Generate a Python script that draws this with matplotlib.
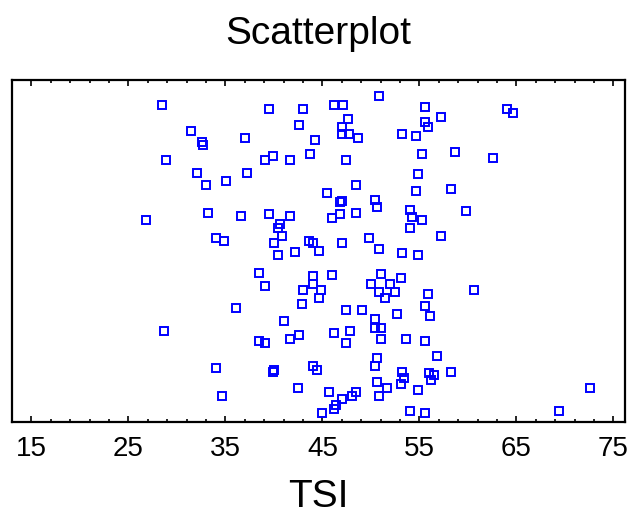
import matplotlib.pyplot as plt

# TSI values with their vertical jitter (0..1)
tsi = [
    28.44, 39.45, 43.04, 42.61, 31.46, 37.05, 32.62, 32.70, 44.25, 28.85,
    39.04, 39.86, 41.62, 43.69, 32.05, 33.03, 35.08, 37.23, 26.85, 33.23,
    36.63, 39.45, 41.62, 40.64, 40.41, 40.85, 40.05, 34.05, 34.87, 43.62,
    44.05, 44.64, 40.44, 42.20, 38.43, 39.07, 44.04, 44.04, 43.04, 44.64,
    42.87, 36.05, 41.03, 28.62, 38.43, 39.08, 41.64, 42.63, 34.05, 40.00,
    39.86, 44.03, 44.44, 34.67, 42.46, 45.00,
    50.79, 46.20, 47.07, 55.60, 47.66, 57.24, 63.99, 64.60, 47.04, 46.97,
    47.74, 48.66, 55.60, 55.84, 53.24, 54.63, 47.45, 55.24, 58.64, 62.63,
    54.81, 48.48, 45.43, 54.61, 58.27, 47.02, 46.84, 50.44, 50.64, 46.03,
    46.85, 48.48, 54.02, 54.27, 55.24, 54.02, 59.82, 57.24, 47.04, 49.84,
    50.79, 53.24, 54.81, 46.02, 44.85, 51.00, 50.05, 52.01, 53.05, 50.79,
    52.43, 51.48, 55.84, 60.61, 47.45, 49.05, 52.64, 55.60, 56.06, 46.22,
    47.87, 47.45, 50.44, 50.40, 51.02, 51.02, 53.63, 55.60, 56.84, 50.63,
    50.44, 53.24, 53.46, 53.05, 55.99, 56.45, 56.20, 58.27, 45.64, 47.05,
    48.07, 48.46, 50.64, 51.67, 50.84, 54.83, 46.41, 46.22, 54.01, 55.58,
    69.42, 72.62,
]
jitter = [
    0.927, 0.915, 0.915, 0.869, 0.852, 0.830, 0.820, 0.811, 0.824, 0.767,
    0.767, 0.779, 0.767, 0.785, 0.727, 0.693, 0.704, 0.727, 0.590, 0.612,
    0.601, 0.607, 0.601, 0.580, 0.568, 0.545, 0.523, 0.539, 0.528, 0.528,
    0.523, 0.500, 0.489, 0.496, 0.437, 0.397, 0.426, 0.403, 0.387, 0.363,
    0.344, 0.333, 0.294, 0.266, 0.237, 0.232, 0.243, 0.254, 0.157, 0.152,
    0.146, 0.164, 0.151, 0.077, 0.100, 0.026,
    0.954, 0.927, 0.927, 0.921, 0.887, 0.892, 0.915, 0.903, 0.863, 0.841,
    0.841, 0.830, 0.876, 0.863, 0.841, 0.835, 0.767, 0.785, 0.790, 0.773,
    0.726, 0.692, 0.670, 0.676, 0.681, 0.647, 0.642, 0.649, 0.629, 0.596,
    0.607, 0.612, 0.619, 0.600, 0.590, 0.567, 0.618, 0.545, 0.523, 0.539,
    0.505, 0.494, 0.487, 0.431, 0.386, 0.432, 0.403, 0.403, 0.420, 0.379,
    0.379, 0.362, 0.374, 0.386, 0.328, 0.328, 0.316, 0.339, 0.311, 0.260,
    0.266, 0.232, 0.300, 0.274, 0.274, 0.243, 0.243, 0.237, 0.192, 0.186,
    0.164, 0.147, 0.130, 0.111, 0.142, 0.137, 0.123, 0.147, 0.088, 0.066,
    0.077, 0.088, 0.118, 0.100, 0.077, 0.094, 0.050, 0.037, 0.033, 0.026,
    0.033, 0.100,
]
xticks = [15, 25, 35, 45, 55, 65, 75]

plt.rcParams['font.family'] = ['Liberation Sans', 'DejaVu Sans']

fig = plt.figure(figsize=(6.31, 5.13), dpi=100)
ax = fig.add_axes([0.019, 0.1774, 0.9715, 0.6666])

ax.plot(tsi, jitter, linestyle='none', marker='s', markersize=5.4,
        markerfacecolor='none', markeredgecolor='#0000ff', markeredgewidth=1.4)

ax.set_xlim(13.34, 76.19)
ax.set_ylim(0, 1)
ax.set_xticks(xticks)
ax.set_xticks(range(13, 77, 2), minor=True)
ax.set_yticks([])

ax.tick_params(axis='x', which='both', direction='in', top=True, bottom=True,
               labelsize=20, pad=10, width=1.2)
ax.tick_params(axis='x', which='major', length=4.5)
ax.tick_params(axis='x', which='minor', length=2.2)
for s in ax.spines.values():
    s.set_linewidth(1.6)

ax.set_title('Scatterplot', fontsize=28, pad=26)
ax.set_xlabel('TSI', fontsize=28, labelpad=12)

fig.savefig('out.png', dpi=100)
